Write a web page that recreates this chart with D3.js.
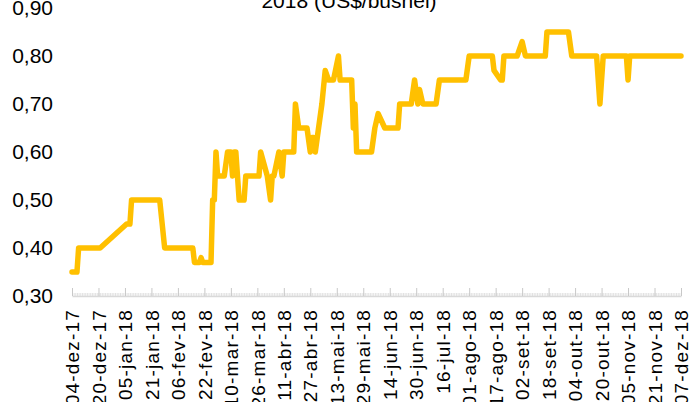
<!DOCTYPE html>
<html>
<head>
<meta charset="utf-8">
<script src="https://cdn.jsdelivr.net/npm/d3@7"></script>
<style>
  body { margin: 0; background: #fff; }
  svg { display: block; font-family: "Liberation Sans", Arial, sans-serif; }
</style>
</head>
<body>
<svg id="chart"></svg>
<script>
const width = 690;
const height = 402;

// price series (only the points where the line turns)
const dates = [
  "2017-12-04","2017-12-07","2017-12-08","2017-12-21","2018-01-06","2018-01-08","2018-01-09","2018-01-26",
  "2018-01-29","2018-02-15","2018-02-16","2018-02-19","2018-02-20","2018-02-21","2018-02-26","2018-02-27",
  "2018-02-28","2018-03-01","2018-03-02","2018-03-06","2018-03-08","2018-03-10","2018-03-11","2018-03-12",
  "2018-03-13","2018-03-14","2018-03-15","2018-03-18","2018-03-19","2018-03-27","2018-03-28","2018-04-01",
  "2018-04-03","2018-04-04","2018-04-05","2018-04-08","2018-04-10","2018-04-11","2018-04-17","2018-04-18",
  "2018-04-20","2018-04-25","2018-04-27","2018-04-28","2018-04-29","2018-04-30","2018-05-02","2018-05-04",
  "2018-05-06","2018-05-08","2018-05-11","2018-05-14","2018-05-15","2018-05-22","2018-05-23","2018-05-24",
  "2018-05-25","2018-06-03","2018-06-05","2018-06-07","2018-06-11","2018-06-19","2018-06-20","2018-06-27",
  "2018-06-29","2018-07-01","2018-07-02","2018-07-04","2018-07-12","2018-07-14","2018-07-30","2018-08-01",
  "2018-08-15","2018-08-16","2018-08-20","2018-08-21","2018-08-22","2018-08-30","2018-09-02","2018-09-04",
  "2018-09-16","2018-09-17","2018-09-30","2018-10-02","2018-10-17","2018-10-19","2018-10-21","2018-11-04",
  "2018-11-05","2018-11-06","2018-12-07"
];
const prices = [
  0.35,0.35,0.40,0.40,0.45,0.45,0.50,0.50,
  0.40,0.40,0.37,0.37,0.38,0.37,0.37,0.50,
  0.50,0.60,0.55,0.55,0.60,0.60,0.55,0.60,
  0.60,0.55,0.50,0.50,0.55,0.55,0.60,0.55,
  0.50,0.55,0.55,0.60,0.55,0.60,0.60,0.70,
  0.65,0.65,0.60,0.63,0.63,0.60,0.65,0.70,
  0.77,0.75,0.75,0.80,0.75,0.75,0.65,0.70,
  0.60,0.60,0.65,0.68,0.65,0.65,0.70,0.70,
  0.75,0.70,0.73,0.70,0.70,0.75,0.75,0.80,
  0.80,0.77,0.75,0.75,0.80,0.80,0.83,0.80,
  0.80,0.85,0.85,0.80,0.80,0.70,0.80,0.80,
  0.75,0.80,0.80
];

// axis ticks
const tickDates = [
  "2017-12-04","2017-12-20","2018-01-05","2018-01-21","2018-02-06","2018-02-22","2018-03-10","2018-03-26",
  "2018-04-11","2018-04-27","2018-05-13","2018-05-29","2018-06-14","2018-06-30","2018-07-16","2018-08-01",
  "2018-08-17","2018-09-02","2018-09-18","2018-10-04","2018-10-20","2018-11-05","2018-11-21","2018-12-07"
];
const tickLabels = [
  "04-dez-17","20-dez-17","05-jan-18","21-jan-18","06-fev-18","22-fev-18","10-mar-18","26-mar-18",
  "11-abr-18","27-abr-18","13-mai-18","29-mai-18","14-jun-18","30-jun-18","16-jul-18","01-ago-18",
  "17-ago-18","02-set-18","18-set-18","04-out-18","20-out-18","05-nov-18","21-nov-18","07-dez-18"
];
const yTicks = [0.30, 0.40, 0.50, 0.60, 0.70, 0.80, 0.90];
const titleLine = "2018 (US$/bushel)";

const parse = d3.utcParse("%Y-%m-%d");
const data = dates.map((d, i) => ({ date: parse(d), value: prices[i] }));
const tickVals = tickDates.map(parse);

const margin = {top: 8, right: 9, bottom: 106, left: 72};

let svg = d3.select("#chart")
            .attr("width", width)
            .attr("height", height);

let x = d3.scaleUtc()
          .domain([tickVals[0], tickVals[tickVals.length - 1]])
          .range([margin.left, width - margin.right]);

let y = d3.scaleLinear()
          .domain([0.30, 0.90])
          .range([height - margin.bottom, margin.top]);

// title (first line is outside the picture)
svg.append("text")
   .attr("x", 349)
   .attr("y", 8)
   .attr("text-anchor", "middle")
   .style("font-size", "21px")
   .attr("fill", "#000")
   .text(titleLine);

// daily minor ticks
let minorDays = d3.utcDay.range(tickVals[0], d3.utcDay.offset(tickVals[tickVals.length - 1], 1));
svg.append("g")
   .attr("transform", "translate(0," + y(0.30) + ")")
   .call(d3.axisBottom(x).tickValues(minorDays).tickSize(-3).tickSizeOuter(0).tickFormat(""))
   .call(g => g.select(".domain").attr("stroke", "#d9d9d9").attr("stroke-width", 1.5))
   .call(g => g.selectAll(".tick line").attr("stroke", "#d9d9d9").attr("stroke-width", 0.8));

// major ticks + rotated labels
let xAxis = svg.append("g")
   .attr("transform", "translate(0," + y(0.30) + ")")
   .call(d3.axisBottom(x)
           .tickValues(tickVals)
           .tickSize(-8)
           .tickSizeOuter(0)
           .tickFormat((d, i) => tickLabels[i]));

xAxis.select(".domain").remove();
xAxis.selectAll(".tick line").attr("stroke", "#c8c8c8").attr("stroke-width", 1);
xAxis.selectAll(".tick text")
     .attr("transform", "rotate(-90)")
     .attr("x", -13)
     .attr("y", 0)
     .attr("dy", "0.35em")
     .attr("text-anchor", "end")
     .attr("fill", "#000")
     .style("font-size", "19px")
     .style("letter-spacing", "1.2px")
     .style("font-family", "'Liberation Sans', Arial, sans-serif");

// y axis labels only
let yAxis = svg.append("g")
   .attr("transform", "translate(" + margin.left + ",0)")
   .call(d3.axisLeft(y)
           .tickValues(yTicks)
           .tickSize(0)
           .tickPadding(19)
           .tickFormat(d => d3.format(".2f")(d).replace(".", ",")));

yAxis.select(".domain").remove();
yAxis.selectAll(".tick text")
     .attr("fill", "#000")
     .style("font-size", "21px")
     .style("font-family", "'Liberation Sans', Arial, sans-serif");

// the price line
let line = d3.line()
             .x(d => x(d.date))
             .y(d => y(d.value));

svg.append("path")
   .datum(data)
   .attr("d", line)
   .attr("fill", "none")
   .attr("stroke", "#FFC000")
   .attr("stroke-width", 5.5)
   .attr("stroke-linejoin", "round")
   .attr("stroke-linecap", "round");
</script>
</body>
</html>
